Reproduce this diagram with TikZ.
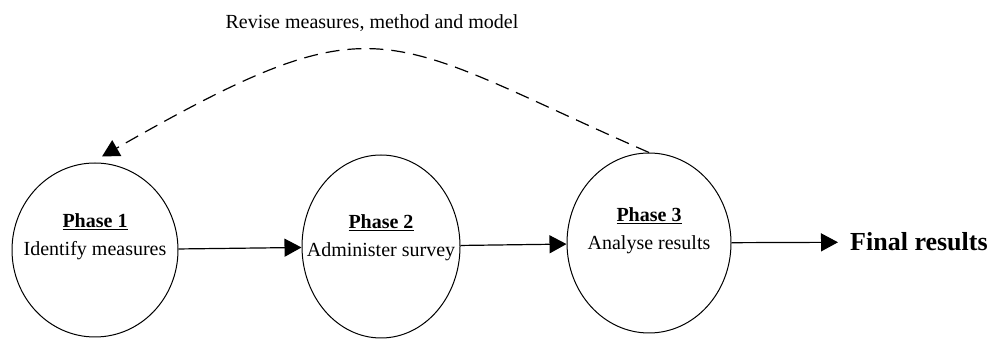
\documentclass[tikz,border=0pt]{standalone}
\usepackage{fontspec}
\setmainfont{Liberation Serif}
\usetikzlibrary{shapes.geometric}
\usetikzlibrary{arrows.meta}
\tikzset{
	phasestyle/.style={ellipse,draw=black,line width=1pt,inner sep=0pt},
	textstyle/.style={align=center,font=\fontsize{20}{28}\selectfont,inner sep=0pt},
	finalstyle/.style={anchor=west,inner ysep=0pt,inner xsep=12pt,font=\fontsize{26}{30}\selectfont\bfseries},
	flowstyle/.style={line width=1.2pt,-{Triangle[length=17pt,width=18pt]}},
	revisestyle/.style={line width=1.2pt,dash pattern=on 14pt off 8pt,-{Triangle[length=17pt,width=18pt]}}
}

\begin{document}
\begin{tikzpicture}[x=1pt,y=1pt]
	\useasboundingbox (0,0) rectangle (990,339);
	\node[phasestyle,minimum width=166pt,minimum height=174pt] (p1) at (95,89) {};
	\node[phasestyle,minimum width=158pt,minimum height=183pt] (p2) at (381,92.5) {};
	\node[phasestyle,minimum width=164pt,minimum height=180pt] (p3) at (649,96) {};
	\node[textstyle] (t1) at ([yshift=13pt]p1.center) {\underline{\textbf{Phase 1}}\\Identify measures};
	\node[textstyle] (t2) at ([yshift=9pt]p2.center) {\underline{\textbf{Phase 2}}\\Administer survey};
	\node[textstyle] (t3) at ([yshift=12pt]p3.center) {\underline{\textbf{Phase 3}}\\Analyse results};
	\node[finalstyle] (final) at (838,97) {Final results};
	\node[textstyle] (revise) at (372,316) {Revise measures, method and model};
	\draw[flowstyle] (p1)--(p2);
	\draw[flowstyle] (p2)--(p3);
	\draw[flowstyle] (p3)--(final);
	\draw[revisestyle] (p3.north) .. controls +(-270,118) and +(280,160) .. ([shift={(7pt,6pt)}]p1.north);
\end{tikzpicture}
\end{document}
